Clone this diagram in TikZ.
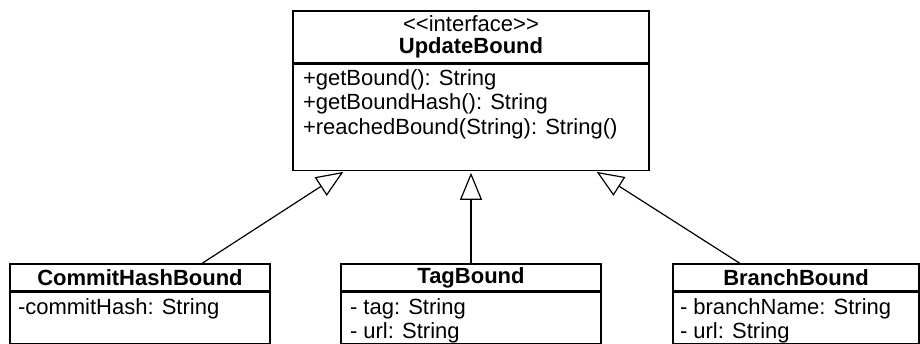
\documentclass[tikz,border=0pt]{standalone}
\usepackage{fontspec}
\setmainfont{Liberation Sans}[Ligatures=TeXOff]
\usetikzlibrary{calc, positioning, arrows.meta}

\begin{document}
\begin{tikzpicture}[x=1pt, y=-1pt, inner sep=0pt, line width=1.2pt,
	font=\fontsize{22}{24.5}\selectfont,
	clshead/.style={draw, align=center},
	clsbody/.style={draw},
	members/.style={align=left},
	inherit/.style={-{Triangle[open, length=27pt, width=22pt]}, shorten >=2pt}]
	\useasboundingbox (0,0) rectangle (920,343);
	\node (ub) [clshead, minimum width=356pt, minimum height=52pt, font=\fontsize{22}{22}\selectfont] at (471,37) {<<interface>>\\\textbf{UpdateBound}};
	\node (ubb) [clsbody, minimum width=356pt, minimum height=106pt, below=0pt of ub] {};
	\node (ubm) [members, below right=5pt and 10pt of ubb.north west] {+getBound(): String\\+getBoundHash(): String\\+reachedBound(String): String()};
	% subclasses
	\node (ch) [clshead, minimum width=260pt, minimum height=27pt] at (140,277.5) {\textbf{CommitHashBound}};
	\node (chb) [clsbody, minimum width=260pt, minimum height=51pt, below=0pt of ch] {};
	\node (chm) [members, below right=6pt and 8pt of chb.north west] {-commitHash: String};
	\node (tb) [clshead, minimum width=260pt, minimum height=27pt] at (471,277.5) {\textbf{TagBound}};
	\node (tbb) [clsbody, minimum width=260pt, minimum height=51pt, below=0pt of tb] {};
	\node (tbm) [members, below right=6pt and 9pt of tbb.north west] {- tag: String\\- url: String};
	\node (bb) [clshead, minimum width=246pt, minimum height=27pt] at (796,277.5) {\textbf{BranchBound}};
	\node (bbb) [clsbody, minimum width=246pt, minimum height=51pt, below=0pt of bb] {};
	\node (bbm) [members, below right=6pt and 7pt of bbb.north west] {- branchName: String\\- url: String};
	% generalisation
	\draw[inherit] ($(ch.north)+(62,0)$) -- ($(ubb.south)+(-126,0)$);
	\draw[inherit] (tb) -- (ubb);
	\draw[inherit] ($(bb.north)+(-56,0)$) -- ($(ubb.south)+(124,0)$);
\end{tikzpicture}
\end{document}
